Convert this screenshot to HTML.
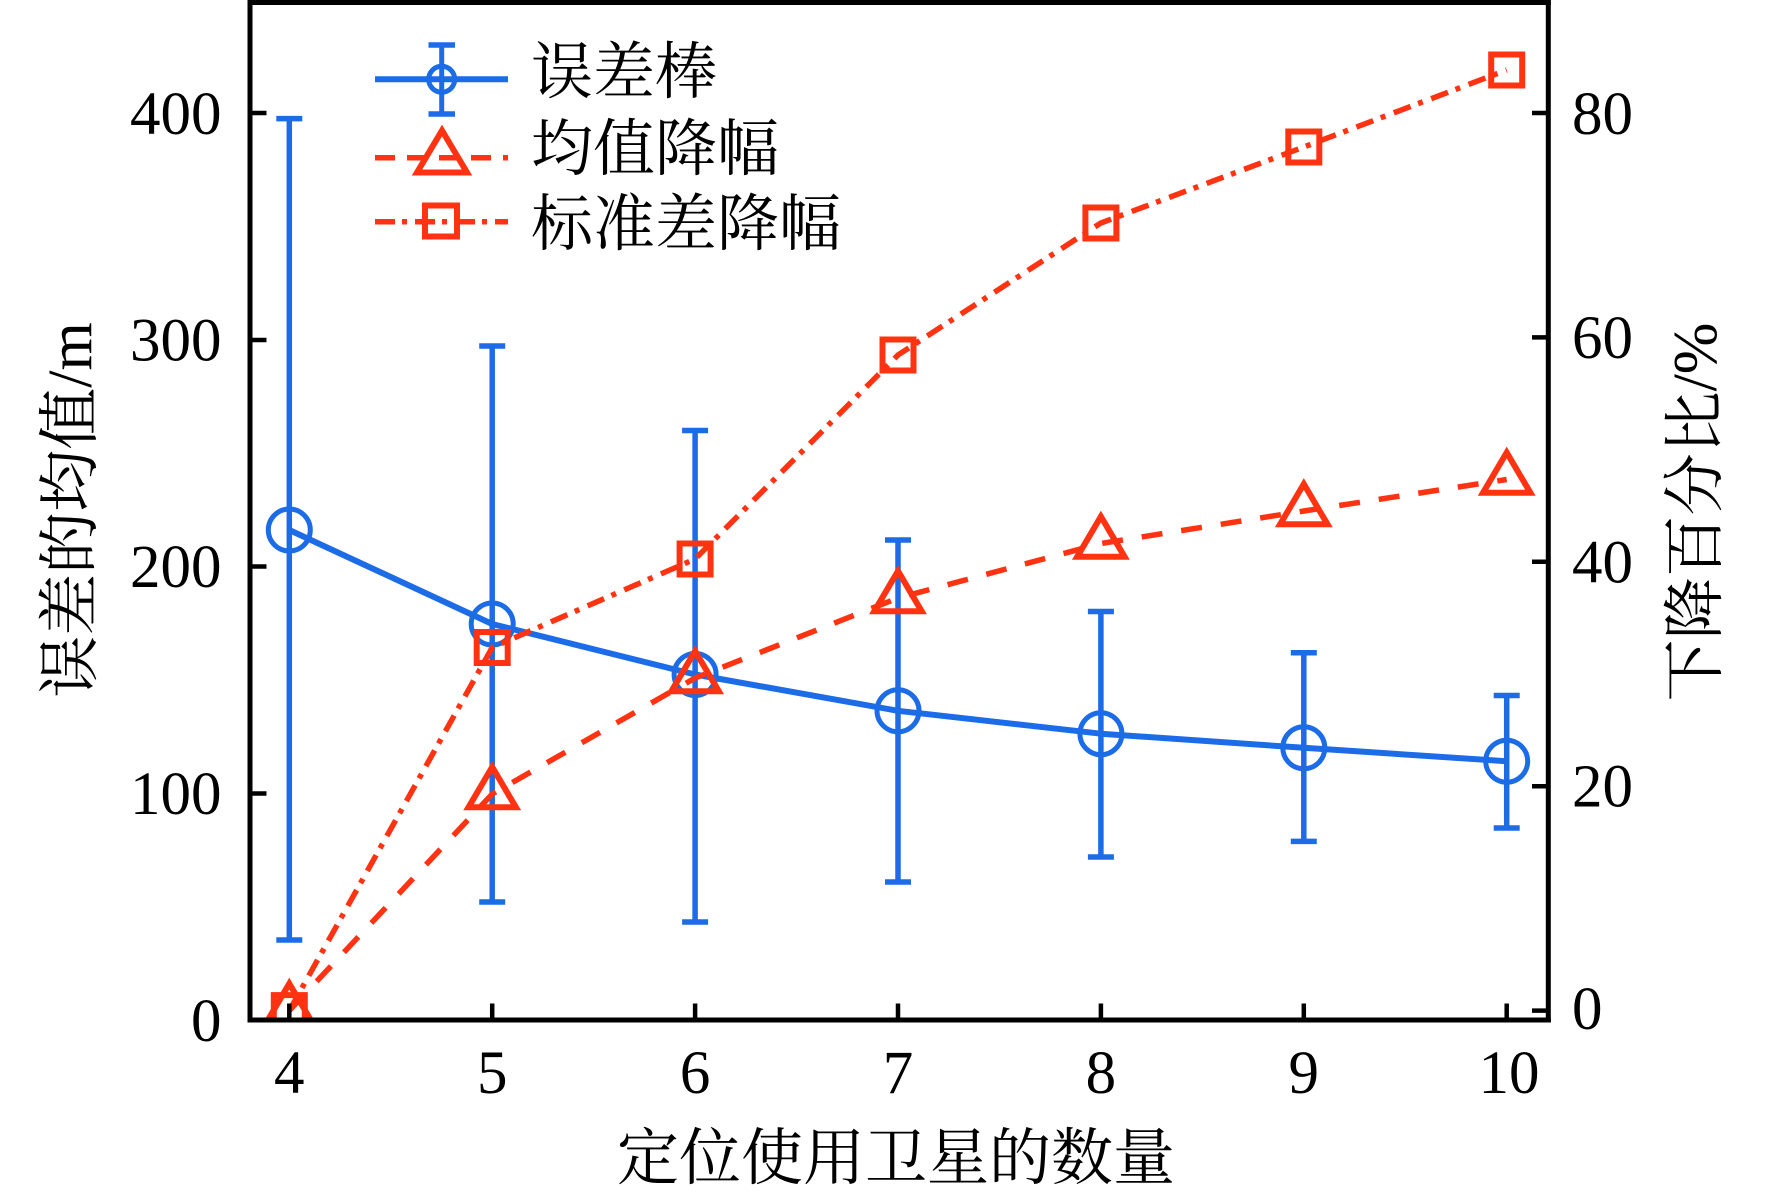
<!DOCTYPE html>
<html>
<head>
<meta charset="utf-8">
<style>
  html,body{margin:0;padding:0;background:#fff;}
  svg{display:block;}
  .num{font-family:"Liberation Serif","DejaVu Serif",serif;font-size:61px;fill:#000;}
  .cjk{font-family:"Liberation Serif","Noto Serif CJK SC","Noto Sans CJK SC",serif;font-size:62px;fill:#000;}
</style>
</head>
<body>
<svg width="1772" height="1199" viewBox="0 0 1772 1199" xmlns="http://www.w3.org/2000/svg">
  <defs>
    <clipPath id="plot">
      <rect x="250" y="2" width="1298" height="1018"/>
    </clipPath>
  </defs>
  <rect x="0" y="0" width="1772" height="1199" fill="#fff"/>

  <!-- Blue series: error bars + mean line -->
  <g stroke="#1b6ce6" fill="none" clip-path="url(#plot)">
    <g stroke-width="5.5">
      <line x1="289.3" y1="118.6" x2="289.3" y2="940"/>
      <line x1="492.2" y1="346" x2="492.2" y2="902"/>
      <line x1="695.1" y1="430.5" x2="695.1" y2="922"/>
      <line x1="898" y1="540" x2="898" y2="882"/>
      <line x1="1100.9" y1="611.5" x2="1100.9" y2="857"/>
      <line x1="1303.8" y1="652.7" x2="1303.8" y2="841.4"/>
      <line x1="1506.7" y1="695.5" x2="1506.7" y2="828"/>
    </g>
    <g stroke-width="5.5">
      <line x1="276.3" y1="118.6" x2="302.3" y2="118.6"/>
      <line x1="276.3" y1="940" x2="302.3" y2="940"/>
      <line x1="479.2" y1="346" x2="505.2" y2="346"/>
      <line x1="479.2" y1="902" x2="505.2" y2="902"/>
      <line x1="682.1" y1="430.5" x2="708.1" y2="430.5"/>
      <line x1="682.1" y1="922" x2="708.1" y2="922"/>
      <line x1="885" y1="540" x2="911" y2="540"/>
      <line x1="885" y1="882" x2="911" y2="882"/>
      <line x1="1087.9" y1="611.5" x2="1113.9" y2="611.5"/>
      <line x1="1087.9" y1="857" x2="1113.9" y2="857"/>
      <line x1="1290.8" y1="652.7" x2="1316.8" y2="652.7"/>
      <line x1="1290.8" y1="841.4" x2="1316.8" y2="841.4"/>
      <line x1="1493.7" y1="695.5" x2="1519.7" y2="695.5"/>
      <line x1="1493.7" y1="828" x2="1519.7" y2="828"/>
    </g>
    <polyline stroke-width="6" stroke-linejoin="round" points="289.3,530 492.2,624 695.1,674.5 898,710.8 1100.9,733.7 1303.8,747.8 1506.7,761.2"/>
    <g stroke-width="5">
      <circle cx="289.3" cy="530" r="21"/>
      <circle cx="492.2" cy="624" r="21"/>
      <circle cx="695.1" cy="674.5" r="21"/>
      <circle cx="898" cy="710.8" r="21"/>
      <circle cx="1100.9" cy="733.7" r="21"/>
      <circle cx="1303.8" cy="747.8" r="21"/>
      <circle cx="1506.7" cy="761.2" r="21"/>
    </g>
  </g>

  <!-- Red series -->
  <g stroke="#ff3311" fill="none" clip-path="url(#plot)">
    <polyline stroke-width="5.5" stroke-dasharray="21 19" points="289.3,1010.6 492.2,794 695.1,678 898,598 1100.9,543.5 1303.8,511 1506.7,479.5"/>
    <polyline stroke-width="5.5" stroke-dasharray="18 8 5 9" points="289.3,1010.6 492.2,647.5 695.1,559 898,355 1100.9,223 1303.8,147 1506.7,70"/>
    <g stroke-width="6" stroke-linejoin="miter" stroke-miterlimit="10">
      <path d="M289.3,983.6 L313,1023.9 L265.6,1023.9 Z"/>
      <path d="M492.2,767 L515.9,807.3 L468.5,807.3 Z"/>
      <path d="M695.1,651 L718.8,691.3 L671.4,691.3 Z"/>
      <path d="M898,571 L921.7,611.3 L874.3,611.3 Z"/>
      <path d="M1100.9,516.5 L1124.6,556.8 L1077.2,556.8 Z"/>
      <path d="M1303.8,484 L1327.5,524.3 L1280.1,524.3 Z"/>
      <path d="M1506.7,452.5 L1530.4,492.8 L1483,492.8 Z"/>
    </g>
    <g stroke-width="6">
      <rect x="273.8" y="995.1" width="31" height="31"/>
      <rect x="476.7" y="632" width="31" height="31"/>
      <rect x="679.6" y="543.5" width="31" height="31"/>
      <rect x="882.5" y="339.5" width="31" height="31"/>
      <rect x="1085.4" y="207.5" width="31" height="31"/>
      <rect x="1288.3" y="131.5" width="31" height="31"/>
      <rect x="1491.2" y="54.5" width="31" height="31"/>
    </g>
  </g>

  <!-- Axes box -->
  <g stroke="#000" fill="none">
    <line x1="250" y1="0" x2="250" y2="1022.5" stroke-width="5"/>
    <line x1="1548.3" y1="0" x2="1548.3" y2="1022.5" stroke-width="5"/>
    <line x1="247.5" y1="2.5" x2="1550.8" y2="2.5" stroke-width="5"/>
    <line x1="247.5" y1="1020" x2="1550.8" y2="1020" stroke-width="5"/>
    <g stroke-width="4.5">
      <line x1="250" y1="113" x2="266.5" y2="113"/>
      <line x1="250" y1="340" x2="266.5" y2="340"/>
      <line x1="250" y1="566.5" x2="266.5" y2="566.5"/>
      <line x1="250" y1="793.5" x2="266.5" y2="793.5"/>
      <line x1="1532" y1="113" x2="1548.3" y2="113"/>
      <line x1="1532" y1="337.4" x2="1548.3" y2="337.4"/>
      <line x1="1532" y1="561.8" x2="1548.3" y2="561.8"/>
      <line x1="1532" y1="786.2" x2="1548.3" y2="786.2"/>
      <line x1="1532" y1="1010.6" x2="1548.3" y2="1010.6"/>
      <line x1="289.3" y1="1003.5" x2="289.3" y2="1020"/>
      <line x1="492.2" y1="1003.5" x2="492.2" y2="1020"/>
      <line x1="695.1" y1="1003.5" x2="695.1" y2="1020"/>
      <line x1="898" y1="1003.5" x2="898" y2="1020"/>
      <line x1="1100.9" y1="1003.5" x2="1100.9" y2="1020"/>
      <line x1="1303.8" y1="1003.5" x2="1303.8" y2="1020"/>
      <line x1="1506.7" y1="1003.5" x2="1506.7" y2="1020"/>
    </g>
  </g>

  <!-- Left tick labels -->
  <g class="num" text-anchor="end">
    <text x="221.5" y="134">400</text>
    <text x="221.5" y="360.5">300</text>
    <text x="221.5" y="587">200</text>
    <text x="221.5" y="814">100</text>
    <text x="221.5" y="1041">0</text>
  </g>
  <!-- Right tick labels -->
  <g class="num" text-anchor="start">
    <text x="1572" y="134">80</text>
    <text x="1572" y="358">60</text>
    <text x="1572" y="582.5">40</text>
    <text x="1572" y="806.5">20</text>
    <text x="1572" y="1029">0</text>
  </g>
  <!-- Bottom tick labels -->
  <g class="num" text-anchor="middle">
    <text x="289.3" y="1093">4</text>
    <text x="492.2" y="1093">5</text>
    <text x="695.1" y="1093">6</text>
    <text x="898" y="1093">7</text>
    <text x="1100.9" y="1093">8</text>
    <text x="1303.8" y="1093">9</text>
    <text x="1509" y="1093">10</text>
  </g>

  <!-- Axis titles -->
  <text class="cjk" x="896" y="1179" text-anchor="middle">定位使用卫星的数量</text>
  <text class="cjk" transform="translate(91,510) rotate(-90)" text-anchor="middle">误差的均值/m</text>
  <text class="cjk" transform="translate(1716,512) rotate(-90)" text-anchor="middle">下降百分比/%</text>

  <!-- Legend -->
  <g fill="none">
    <g stroke="#1b6ce6">
      <line x1="375" y1="79.3" x2="508" y2="79.3" stroke-width="6"/>
      <line x1="441.7" y1="44.5" x2="441.7" y2="114" stroke-width="5"/>
      <line x1="428.5" y1="45" x2="455" y2="45" stroke-width="5.5"/>
      <line x1="428.5" y1="114" x2="455" y2="114" stroke-width="5.5"/>
      <circle cx="441.7" cy="79.3" r="13" stroke-width="5"/>
    </g>
    <g stroke="#ff3311">
      <line x1="375" y1="157.7" x2="508" y2="157.7" stroke-width="5.5" stroke-dasharray="20 12"/>
      <path d="M442,130.5 L467,172.5 L417,172.5 Z" stroke-width="6" stroke-miterlimit="10"/>
      <line x1="375" y1="221.7" x2="508" y2="221.7" stroke-width="5.5" stroke-dasharray="20 7 5 8"/>
      <rect x="425" y="205.5" width="32" height="31" stroke-width="6"/>
    </g>
  </g>
  <g class="cjk">
    <text x="531" y="93">误差棒</text>
    <text x="531" y="170">均值降幅</text>
    <text x="531" y="245">标准差降幅</text>
  </g>
</svg>
</body>
</html>
